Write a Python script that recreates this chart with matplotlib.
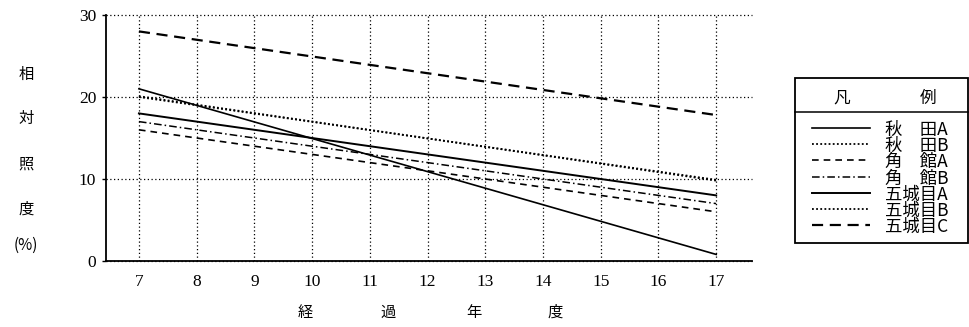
import matplotlib.pyplot as plt
from matplotlib.lines import Line2D
from matplotlib.patches import Rectangle

# 経過年度 (start, end) and relative illuminance (%)
years = [7, 17]
year_ticks = list(range(7, 18))
y_ticks = [0, 10, 20, 30]

labels = ['秋\u3000田A', '秋\u3000田B', '角\u3000館A', '角\u3000館B',
          '五城目A', '五城目B', '五城目C']
akita_a = [21.0, 0.8]
akita_b = [20.0, 9.9]
kakunodate_a = [16.0, 6.0]
kakunodate_b = [17.0, 7.0]
gojome_a = [18.0, 8.0]
gojome_b = [20.1, 9.8]
gojome_c = [28.0, 17.8]
series = [akita_a, akita_b, kakunodate_a, kakunodate_b, gojome_a, gojome_b, gojome_c]

styles = [('-', 1.2), ((0, (1, 1.3)), 1.3), ((0, (4, 3)), 1.2), ((0, (5, 2, 1, 2)), 1.1),
          ('-', 1.4), ((0, (1, 1.3)), 1.3), ((0, (5, 3)), 1.6)]

cjk = ['Noto Sans CJK JP', 'DejaVu Sans']
W, H = 969, 327

fig = plt.figure(figsize=(W / 100, H / 100), dpi=100)
ax = fig.add_axes([106 / W, 1 - 261 / H, (752 - 106) / W, (261 - 15) / H])

for vals, (ls, lw) in zip(series, styles):
    ax.plot(years, vals, color='black', linestyle=ls, linewidth=lw)

ax.set_xlim(6.43, 17.62)
ax.set_ylim(0, 30)
ax.set_xticks(year_ticks)
ax.set_yticks(y_ticks)
ax.set_xticklabels([str(t) for t in year_ticks], family='Liberation Serif', fontsize=12.5)
ax.set_yticklabels([str(t) for t in y_ticks], family='Liberation Serif', fontsize=12.5)
ax.tick_params(axis='x', length=0, pad=9)
ax.tick_params(axis='y', length=3, width=1, pad=4)
ax.grid(True, linestyle=(0, (1, 2)), color='black', linewidth=0.9)
for gl in ax.get_ygridlines():
    gl.set_clip_on(False)
ax.spines['top'].set_visible(False)
ax.spines['right'].set_visible(False)
ax.spines['left'].set_linewidth(1.3)
ax.spines['bottom'].set_linewidth(1.3)

# vertical y label
for ch, py in zip(['相', '対', '照', '度', '(%)'], [72, 116, 162, 207, 243]):
    fig.text(26 / W, 1 - py / H, ch, ha='center', va='center_baseline', fontsize=11, family=cjk)

# x label
for ch, px in zip(['経', '過', '年', '度'], [305, 388, 474, 555]):
    fig.text(px / W, 1 - 310 / H, ch, ha='center', va='center_baseline', fontsize=11, family=cjk)

# legend box
fig.patches.append(Rectangle((795 / W, 1 - 243 / H), (968 - 795) / W, (243 - 78) / H,
                             transform=fig.transFigure, fill=False, edgecolor='black', linewidth=1.3))
fig.lines.append(Line2D([795 / W, 968 / W], [1 - 112 / H, 1 - 112 / H],
                        transform=fig.transFigure, color='black', linewidth=1.1))
fig.text(842 / W, 1 - 96 / H, '凡', ha='center', va='center_baseline', fontsize=12, family=cjk)
fig.text(928 / W, 1 - 96 / H, '例', ha='center', va='center_baseline', fontsize=12, family=cjk)

for i, (lab, (ls, lw)) in enumerate(zip(labels, styles)):
    py = 128 + i * 16.2
    fig.lines.append(Line2D([812 / W, 870 / W], [1 - py / H, 1 - py / H], transform=fig.transFigure,
                            color='black', linestyle=ls, linewidth=lw))
    fig.text(885 / W, 1 - py / H, lab, ha='left', va='center_baseline', fontsize=12.5,
             family=cjk, linespacing=1.0)

fig.savefig('out.png', dpi=100)
